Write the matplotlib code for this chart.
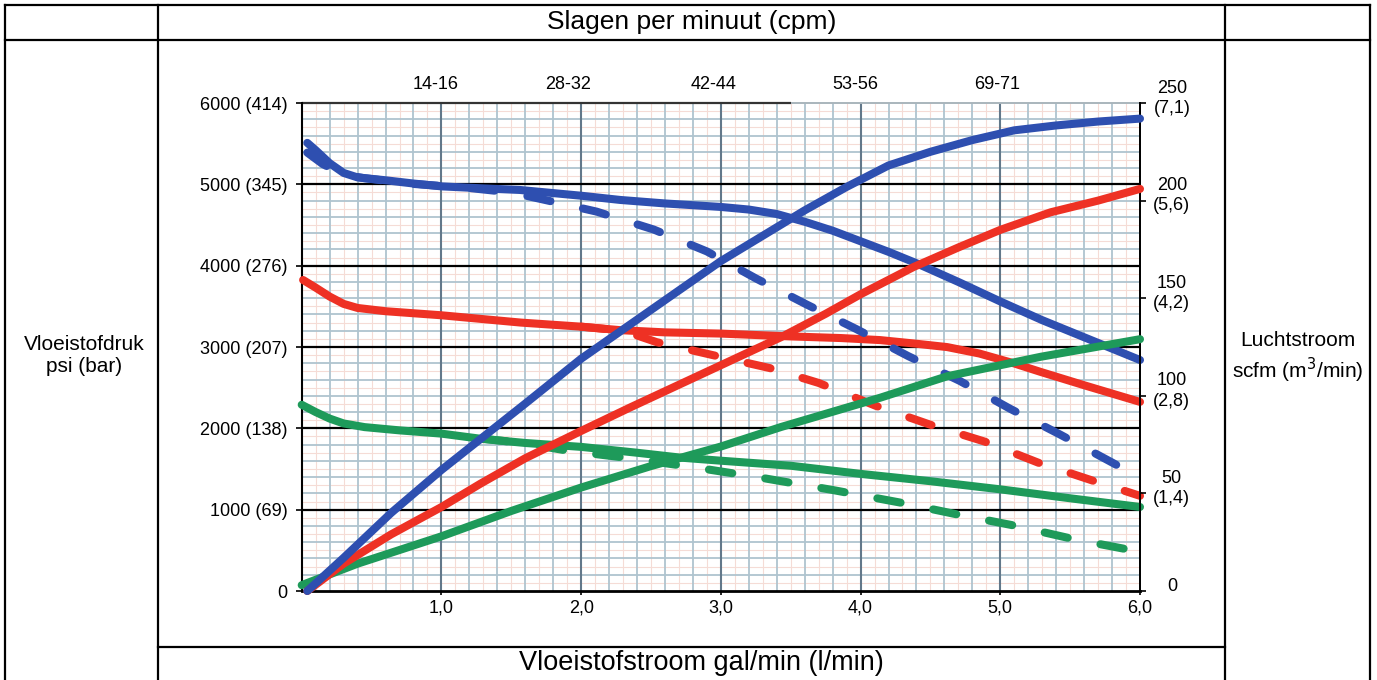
import numpy as np
import matplotlib
matplotlib.use("Agg")
import matplotlib.pyplot as plt
from matplotlib.lines import Line2D
import matplotlib.transforms as mtransforms

plt.rcParams['font.family'] = ['Liberation Sans', 'DejaVu Sans']
plt.rcParams['lines.scale_dashes'] = False

# ---------------- data ----------------
# x: Vloeistofstroom gal/min ; pressure in psi ; air flow in scfm
blue_px = [0.04, 0.1, 0.2, 0.3, 0.4, 0.6, 0.8, 1.0, 1.3, 1.56, 2.0, 2.28, 2.6, 3.0, 3.2, 3.4,
           3.6, 3.8, 4.0, 4.2, 4.4, 4.7, 5.0, 5.3, 5.65, 6.0]
blue_p = [5510, 5420, 5260, 5140, 5085, 5050, 5010, 4975, 4950, 4931, 4860, 4808, 4765, 4722, 4690, 4635,
          4540, 4430, 4300, 4170, 4030, 3800, 3560, 3330, 3085, 2840]
blue_dx = [0.04, 0.15, 0.3, 0.45, 0.8, 1.2, 1.5, 1.75, 2.11, 2.52, 2.90, 3.25, 3.61, 3.97, 4.34,
           4.71, 5.07, 5.43, 5.80, 5.97]
blue_d = [5390, 5250, 5120, 5075, 5005, 4955, 4900, 4805, 4665, 4444, 4175, 3844, 3526, 3220, 2889,
          2583, 2241, 1922, 1580, 1420]
blue_ax = [0.04, 0.3, 0.64, 1.0, 1.3, 1.6, 2.0, 2.3, 2.6, 3.0, 3.3, 3.6, 3.9, 4.2, 4.5, 4.8, 5.1,
           5.4, 5.7, 6.0]
blue_a = [0, 17, 40, 62, 79, 96, 119, 134, 149, 169, 182, 195, 207, 218, 225, 231, 236, 238.5, 240.5, 242]

red_px = [0.01, 0.1, 0.2, 0.3, 0.4, 0.6, 1.0, 1.57, 2.0, 2.28, 2.6, 3.0, 3.5, 3.86, 4.14, 4.4, 4.62,
          4.85, 5.09, 5.29, 5.6, 6.0]
red_p = [3824, 3730, 3620, 3530, 3480, 3440, 3390, 3300, 3250, 3207, 3180, 3165, 3130, 3110, 3085, 3040,
         2999, 2920, 2803, 2693, 2530, 2325]
red_dx = [2.0, 2.3, 2.54, 2.94, 3.35, 3.70, 4.11, 4.50, 4.89, 5.27, 5.66, 6.0]
red_d = [3250, 3200, 3060, 2901, 2741, 2558, 2276, 2044, 1836, 1579, 1358, 1170]
red_ax = [0.04, 0.3, 0.64, 1.0, 1.28, 1.6, 2.0, 2.35, 2.71, 3.07, 3.43, 3.75, 4.0, 4.38, 4.7, 5.0,
          5.36, 5.7, 6.0]
red_a = [0, 14, 29, 43, 55, 68, 82, 94, 106, 118, 130, 142, 152, 166, 176, 185, 194, 200, 206]

green_px = [0.0, 0.1, 0.2, 0.3, 0.45, 0.7, 1.0, 1.28, 1.6, 2.0, 2.4, 2.71, 3.0, 3.5, 4.0, 4.5, 5.0,
            5.5, 6.0]
green_p = [2290, 2200, 2120, 2060, 2015, 1975, 1935, 1872, 1820, 1772, 1700, 1640, 1602, 1540, 1440,
           1350, 1250, 1140, 1033]
green_dx = [1.3, 1.6, 1.9, 2.37, 2.82, 3.28, 3.8, 4.3, 4.69, 5.09, 5.53, 5.94, 6.0]
green_d = [1872, 1815, 1726, 1628, 1518, 1395, 1242, 1082, 942, 808, 636, 502, 480]
green_ax = [0.0, 0.4, 1.0, 1.5, 2.0, 2.5, 3.0, 3.43, 4.14, 4.62, 5.29, 6.0]
green_a = [3, 14, 28, 41, 53, 64, 74, 84, 99, 110, 120, 129]

cpm_x = [0.96, 1.91, 2.95, 3.96, 4.98]
cpm_labels = ['14-16', '28-32', '42-44', '53-56', '69-71']

left_ticks = [0, 1000, 2000, 3000, 4000, 5000, 6000]
left_labels = ['0', '1000 (69)', '2000 (138)', '3000 (207)', '4000 (276)', '5000 (345)', '6000 (414)']
right_ticks = [0, 50, 100, 150, 200, 250]
right_labels = ['0', '50\n(1,4)', '100\n(2,8)', '150\n(4,2)', '200\n(5,6)', '250\n(7,1)']
x_ticks = [1, 2, 3, 4, 5, 6]
x_labels = ['1,0', '2,0', '3,0', '4,0', '5,0', '6,0']

BLUE = '#2E4FB0'
RED = '#EE3124'
GREEN = '#1E9A5A'

W, H = 1377, 680
fig = plt.figure(figsize=(W / 100, H / 100), dpi=100)


def fx(px):
    return px / W


def fy(py):
    return 1 - py / H


# ------------- frame (table) -------------
def fline(x0, y0, x1, y1, lw=1.6):
    fig.add_artist(Line2D([fx(x0), fx(x1)], [fy(y0), fy(y1)], color='black', lw=lw,
                          transform=fig.transFigure, solid_capstyle='projecting'))


fline(5, 5, 1370, 5)
fline(5, 40, 1370, 40)
fline(5, 5, 5, 680)
fline(158, 5, 158, 680)
fline(1225, 5, 1225, 680)
fline(1370, 5, 1370, 680)
fline(158, 647, 1225, 647)

fig.text(fx(692), fy(22), 'Slagen per minuut (cpm)', ha='center', va='center', fontsize=19)
fig.text(fx(701), fy(663), 'Vloeistofstroom gal/min (l/min)', ha='center', va='center', fontsize=19.5)
fig.text(fx(84), fy(356), 'Vloeistofdruk\npsi (bar)', ha='center', va='center', fontsize=15,
         linespacing=1.2)
fig.text(fx(1298), fy(358), 'Luchtstroom\nscfm (m$^3$/min)', ha='center', va='center', fontsize=15,
         linespacing=1.25)

# ------------- axes -------------
x0p, x1p, y0p, y1p = 301.7, 1140, 591, 103
ax = fig.add_axes([fx(x0p), fy(y0p), (x1p - x0p) / W, (y0p - y1p) / H])
ax.set_xlim(0, 6)
ax.set_ylim(0, 6000)
ax.set_facecolor('white')

# grid
ax.vlines(np.arange(0.1, 6.0, 0.2), 0, 6000, color='#F5DCD6', lw=0.8, zorder=0.5)
ax.hlines(np.arange(100, 6000, 200), 0, 6, color='#F5DCD6', lw=0.8, zorder=0.5)
ax.vlines(np.arange(0.2, 6.0, 0.2), 0, 6000, color='#AFC4CF', lw=1.3, zorder=0.6)
ax.hlines(np.arange(200, 6000, 200), 0, 6, color='#AFC4CF', lw=1.3, zorder=0.6)
ax.vlines(np.arange(1, 6, 1), 0, 6000, color='#62788A', lw=1.5, zorder=0.7)
ax.hlines(np.arange(1000, 6000, 1000), 0, 6, color='black', lw=1.6, zorder=0.8)
ax.hlines(6000, 0, 6, color='#A9B5BC', lw=1.4, zorder=0.8, clip_on=False)
ax.hlines(6000, 0, 3.5, color='#333333', lw=1.6, zorder=0.9, clip_on=False)

ax.spines['top'].set_visible(False)
ax.spines['left'].set_linewidth(1.5)
ax.spines['bottom'].set_linewidth(2.0)
ax.spines['right'].set_linewidth(1.3)

ax.set_yticks(left_ticks)
ax.set_yticklabels(left_labels, fontsize=13)
ax.set_xticks(x_ticks)
ax.set_xticklabels(x_labels, fontsize=13)
ax.tick_params(axis='y', direction='out', length=4, width=1.2, pad=6)
ax.tick_params(axis='x', direction='out', length=3, width=1.2, pad=3)

ax2 = ax.twinx()
ax2.set_ylim(0, 250)
ax2.set_yticks(right_ticks)
ax2.set_yticklabels([])
ax2.tick_params(axis='y', direction='out', length=4, width=1.2)
for s in ['top', 'left', 'bottom']:
    ax2.spines[s].set_visible(False)
ax2.spines['right'].set_linewidth(1.3)
ytr = ax2.get_yaxis_transform() + mtransforms.ScaledTranslation(0, 3.5 / 72, fig.dpi_scale_trans)
for tv, lab in zip(right_ticks, right_labels):
    ax2.text(1.038, tv, lab, transform=ytr, ha='center', va='center', fontsize=13,
             linespacing=1.25)

trans = mtransforms.blended_transform_factory(ax.transData, ax.transAxes)
for xv, lab in zip(cpm_x, cpm_labels):
    ax.text(xv, 1.037, lab, transform=trans, ha='center', va='center', fontsize=13)

# ------------- curves -------------
lw = 5.8
dash = (0, (17, 24))
kw = dict(solid_capstyle='round', dash_capstyle='round', solid_joinstyle='round', clip_on=False)

ax.plot(green_px, green_p, color=GREEN, lw=lw, zorder=3, **kw)
ax.plot(green_dx, green_d, color=GREEN, lw=lw, ls=dash, zorder=3, **kw)
ax.plot(red_px, red_p, color=RED, lw=lw, zorder=3, **kw)
ax.plot(red_dx, red_d, color=RED, lw=lw, ls=dash, zorder=3, **kw)
ax.plot(blue_px, blue_p, color=BLUE, lw=lw, zorder=3, **kw)
ax.plot(blue_dx, blue_d, color=BLUE, lw=lw, ls=dash, zorder=3, **kw)

ax2.plot(green_ax, green_a, color=GREEN, lw=lw, zorder=3, **kw)
ax2.plot(red_ax, red_a, color=RED, lw=lw, zorder=3, **kw)
ax2.plot(blue_ax, blue_a, color=BLUE, lw=lw, zorder=3, **kw)

fig.savefig('out.png', dpi=100, facecolor='white')
